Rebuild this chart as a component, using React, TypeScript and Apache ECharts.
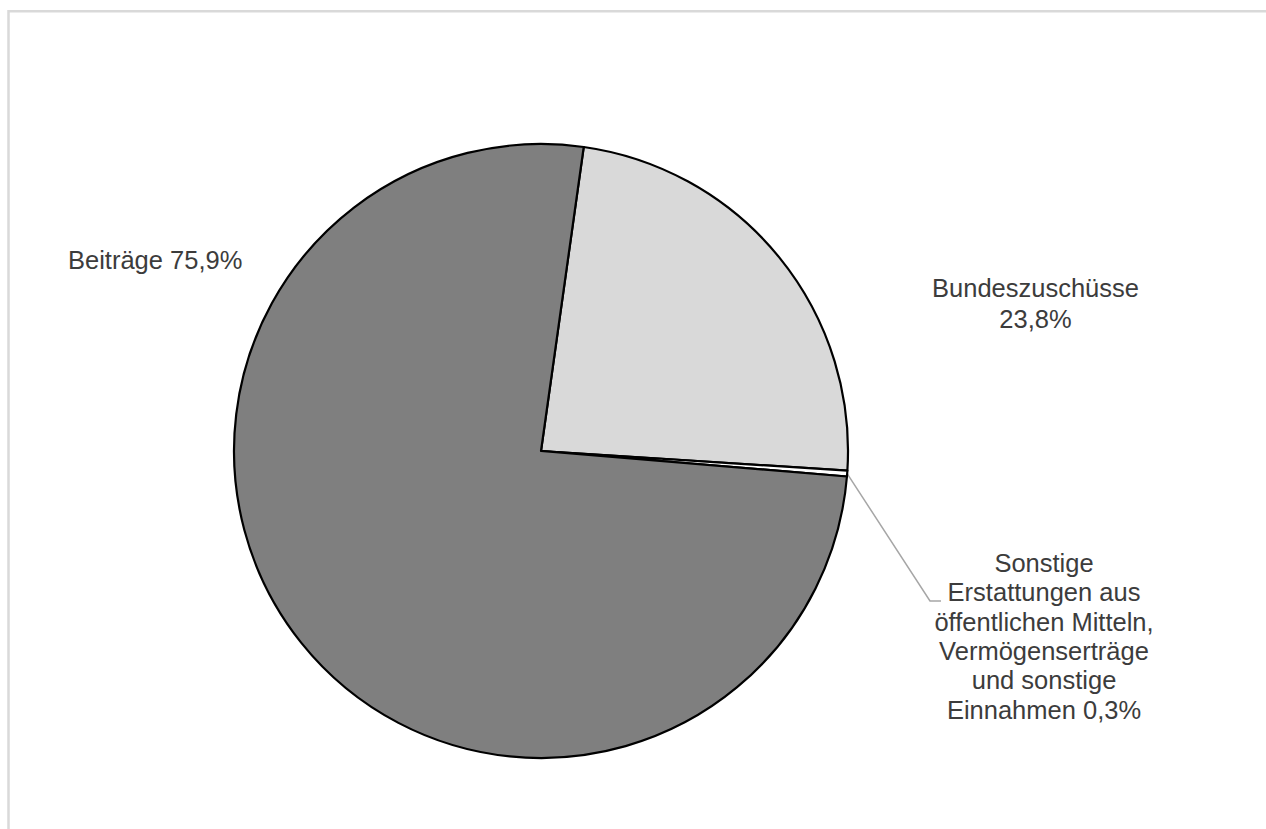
import React, { useEffect, useRef } from "react";
import * as echarts from "echarts";

const categories = ["Bundeszuschüsse", "Sonstige Erstattungen aus öffentlichen Mitteln, Vermögenserträge und sonstige Einnahmen", "Beiträge"];
const labelNames = ["Bundeszuschüsse", "Sonstige\nErstattungen aus\nöffentlichen Mitteln,\nVermögenserträge\nund sonstige\nEinnahmen", "Beiträge"];
const labelSeparators = ["\n", " ", " "];
const shares = [23.8, 0.3, 75.9];
const sliceColors = ["#d9d9d9", "#ffffff", "#7f7f7f"];

const FONT = "'Liberation Sans', Arial, sans-serif";

export default function App() {
  const ref = useRef<HTMLDivElement>(null);
  useEffect(() => {
    if (!ref.current) return;
    const chart = echarts.init(ref.current, null, { renderer: "svg" });
    const data = categories.map((c, i) => ({
      name: c,
      value: shares[i],
      itemStyle: { color: sliceColors[i] },
      label: {
        formatter: () => `${labelNames[i]}${labelSeparators[i]}${shares[i].toFixed(1).replace(".", ",")}%`,
        lineHeight: i === 1 ? 29.3 : 31,
      },
      labelLine: { show: i === 1 },
    }));
    chart.setOption({
      animation: false,
      backgroundColor: "#ffffff",
      graphic: [
        {
          type: "rect",
          shape: { x: 8.5, y: 11.3, width: 1400, height: 1000 },
          style: { fill: "none", stroke: "#d9d9d9", lineWidth: 2.5 },
          silent: true,
        },
      ],
      series: [
        {
          type: "pie",
          center: [541, 451],
          radius: 307,
          startAngle: 82,
          clockwise: true,
          avoidLabelOverlap: false,
          data,
          itemStyle: { borderColor: "#000000", borderWidth: 2.2 },
          label: {
            show: true,
            position: "outside",
            color: "#3c3c3c",
            fontFamily: FONT,
            fontSize: 25.5,
          },
          labelLine: {
            lineStyle: { color: "#a6a6a6", width: 1.5 },
          },
          emphasis: { disabled: true },
          labelLayout: (params: any) => {
            const i = params.dataIndex;
            if (i === 0) {
              return { x: 1035.5, y: 303.8, align: "center", verticalAlign: "middle" };
            }
            if (i === 1) {
              const start = params.labelLinePoints && params.labelLinePoints[0] ? params.labelLinePoints[0] : [848, 475];
              return {
                x: 1044,
                y: 636.3,
                align: "center",
                verticalAlign: "middle",
                labelLinePoints: [start, [930, 601], [941, 601]],
              };
            }
            return { x: 68, y: 260.3, align: "left", verticalAlign: "middle" };
          },
        },
      ],
    });
    return () => chart.dispose();
  }, []);
  return (
    <div
      ref={ref}
      style={{ position: "absolute", left: 0, top: 0, width: 1266, height: 829 }}
    />
  );
}
